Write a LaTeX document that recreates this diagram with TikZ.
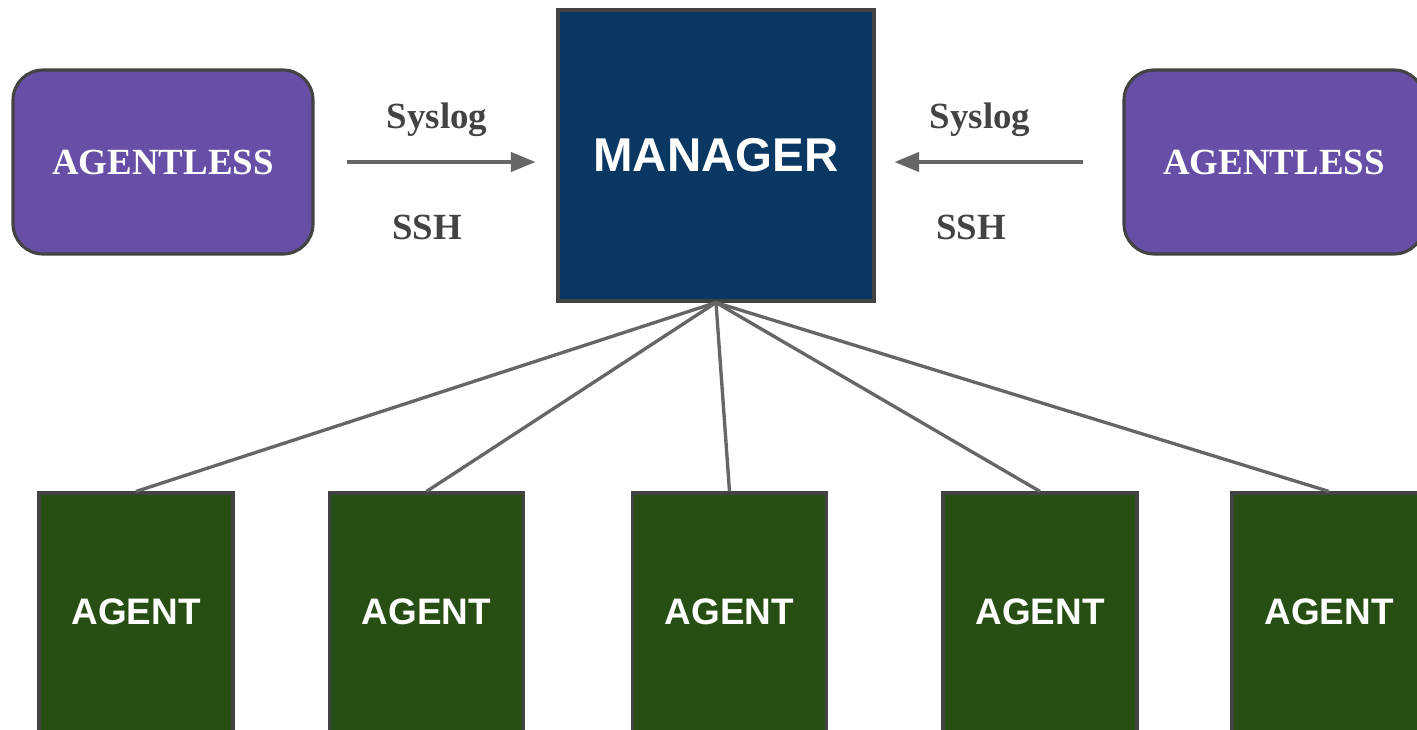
\documentclass[tikz,border=0pt]{standalone}
\usepackage{fontspec}
\setmainfont{Liberation Serif}
\setsansfont{Liberation Sans}
\usetikzlibrary{arrows.meta}
\definecolor{mgrblue}{HTML}{0B3763}
\definecolor{aglpurple}{HTML}{674EA7}
\definecolor{agtgreen}{HTML}{274E13}
\definecolor{edgegray}{HTML}{434343}
\definecolor{linkgray}{HTML}{666666}
\begin{document}
\begin{tikzpicture}[x=0.02cm,y=-0.02cm,
  box/.style={draw=edgegray,line width=1.8pt,rectangle,text=white,inner sep=0pt},
  agentless/.style={box,fill=aglpurple,rounded corners=0.6cm,minimum width=6cm,minimum height=3.68cm,
    font=\rmfamily\bfseries\fontsize{21}{25}\selectfont},
  manager/.style={box,fill=mgrblue,minimum width=6.32cm,minimum height=5.82cm,
    font=\sffamily\bfseries\fontsize{27}{32}\selectfont},
  agent/.style={box,fill=agtgreen,minimum width=3.88cm,minimum height=6cm,
    font=\sffamily\bfseries\fontsize{21}{25}\selectfont},
  proto/.style={text=edgegray,font=\rmfamily\bfseries\fontsize{21}{25}\selectfont},
  link/.style={draw=linkgray,line width=1.9pt},
  flow/.style={link,-{Triangle[length=14pt,width=11pt]}}]
\useasboundingbox (0,0) rectangle (1417,730);
\clip (0,0) rectangle (1417,730);

\node[manager] (mgr) at (716,155.5) {MANAGER};
\node[agentless] (agl1) at (163,162) {AGENTLESS};
\node[agentless] (agl2) at (1274,162) {AGENTLESS};

\node[proto] (sys1) at (437,120) {Syslog};
\node[proto] (ssh1) at (427,227) {SSH};
\node[proto] (sys2) at (980,120) {Syslog};
\node[proto] (ssh2) at (971,227) {SSH};

\draw[flow,shorten <=0.64cm,shorten >=0.42cm] (agl1.east)--(agl1.east -| mgr.west);
\draw[flow,shorten <=0.78cm,shorten >=0.38cm] (agl2.west)--(agl2.west -| mgr.east);

\node[agent] (a1) at (136,643) {};
\node[agent] (a2) at (426.5,643) {};
\node[agent] (a3) at (729.5,643) {};
\node[agent] (a4) at (1040,643) {};
\node[agent] (a5) at (1329,643) {};
\foreach \i/\x in {1/136,2/426.5,3/729.5,4/1040,5/1329}
  \node[text=white,font=\sffamily\bfseries\fontsize{21}{25}\selectfont] (t\i) at (\x,612) {AGENT};

\foreach \i in {1,...,5}
  \draw[link] (mgr.south)--(a\i.north);
\end{tikzpicture}
\end{document}
